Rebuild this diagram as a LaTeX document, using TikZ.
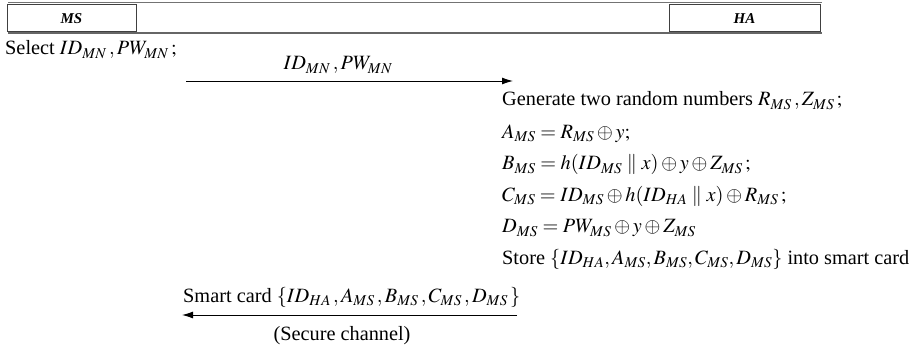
\documentclass[tikz,border=0pt]{standalone}
\usepackage{mathptmx}
\usepackage{fontspec}
\setmainfont{Liberation Serif}
\usetikzlibrary{arrows.meta}
\tikzset{
  txt/.style={anchor=base west, inner sep=0pt, font=\fontsize{20.3}{24}\selectfont},
  ctxt/.style={txt, anchor=base},
  hdrbox/.style={draw=black!75, line width=0.8pt, minimum height=27pt, inner sep=0pt,
    font=\fontsize{15}{17}\selectfont\bfseries\itshape},
  msg/.style={line width=0.9pt, -{Latex[length=11pt, width=7pt]}},
}
\begin{document}
\begin{tikzpicture}[x=1pt, y=-1pt]
\useasboundingbox (0,0) rectangle (920,347);
% header
\draw[black!55, line width=0.7pt] (8,2.5) -- (822,2.5);
\draw[black!60, line width=1.8pt] (8,33) -- (822,33);
\node[hdrbox, minimum width=129pt] (ms) at (71.5,18.2) {MS};
\node[hdrbox, minimum width=151pt] (ha) at (744.5,18.2) {HA};
% first message
\node[txt] (sel) at (5,55) {Select $ID_{MN}\,, PW_{MN}\,;$};
\node[ctxt] (l1) at (338,70) {$ID_{MN}\,, PW_{MN}$};
\coordinate (a1s) at (186,81);
\coordinate (a1e) at (513,81);
\draw[msg] (a1s) -- (a1e);
% HA computations
\node[txt] (r1) at (502,106) {Generate two random numbers $R_{MS}\,, Z_{MS}\,;$};
\node[txt] (r2) at (502,138.5) {$A_{MS} = R_{MS} \oplus y;$};
\node[txt] (r3) at (502,170) {$B_{MS} = h(ID_{MS} \parallel x) \oplus y \oplus Z_{MS}\,;$};
\node[txt] (r4) at (502,201.5) {$C_{MS} = ID_{MS} \oplus h(ID_{HA} \parallel x) \oplus R_{MS}\,;$};
\node[txt] (r5) at (502,233) {$D_{MS} = PW_{MS} \oplus y \oplus Z_{MS}$};
\node[txt] (r6) at (502,264) {Store $\{ID_{HA}, A_{MS}, B_{MS}, C_{MS}, D_{MS}\}$ into smart card};
% second message
\node[txt] (l2) at (183,302) {Smart card $\{ID_{HA}\,, A_{MS}\,, B_{MS}\,, C_{MS}\,, D_{MS}\,\}$};
\coordinate (a2s) at (517,315);
\coordinate (a2e) at (182,315);
\draw[msg] (a2s) -- (a2e);
\node[ctxt] (sc) at (342,340) {(Secure channel)};
\end{tikzpicture}
\end{document}
